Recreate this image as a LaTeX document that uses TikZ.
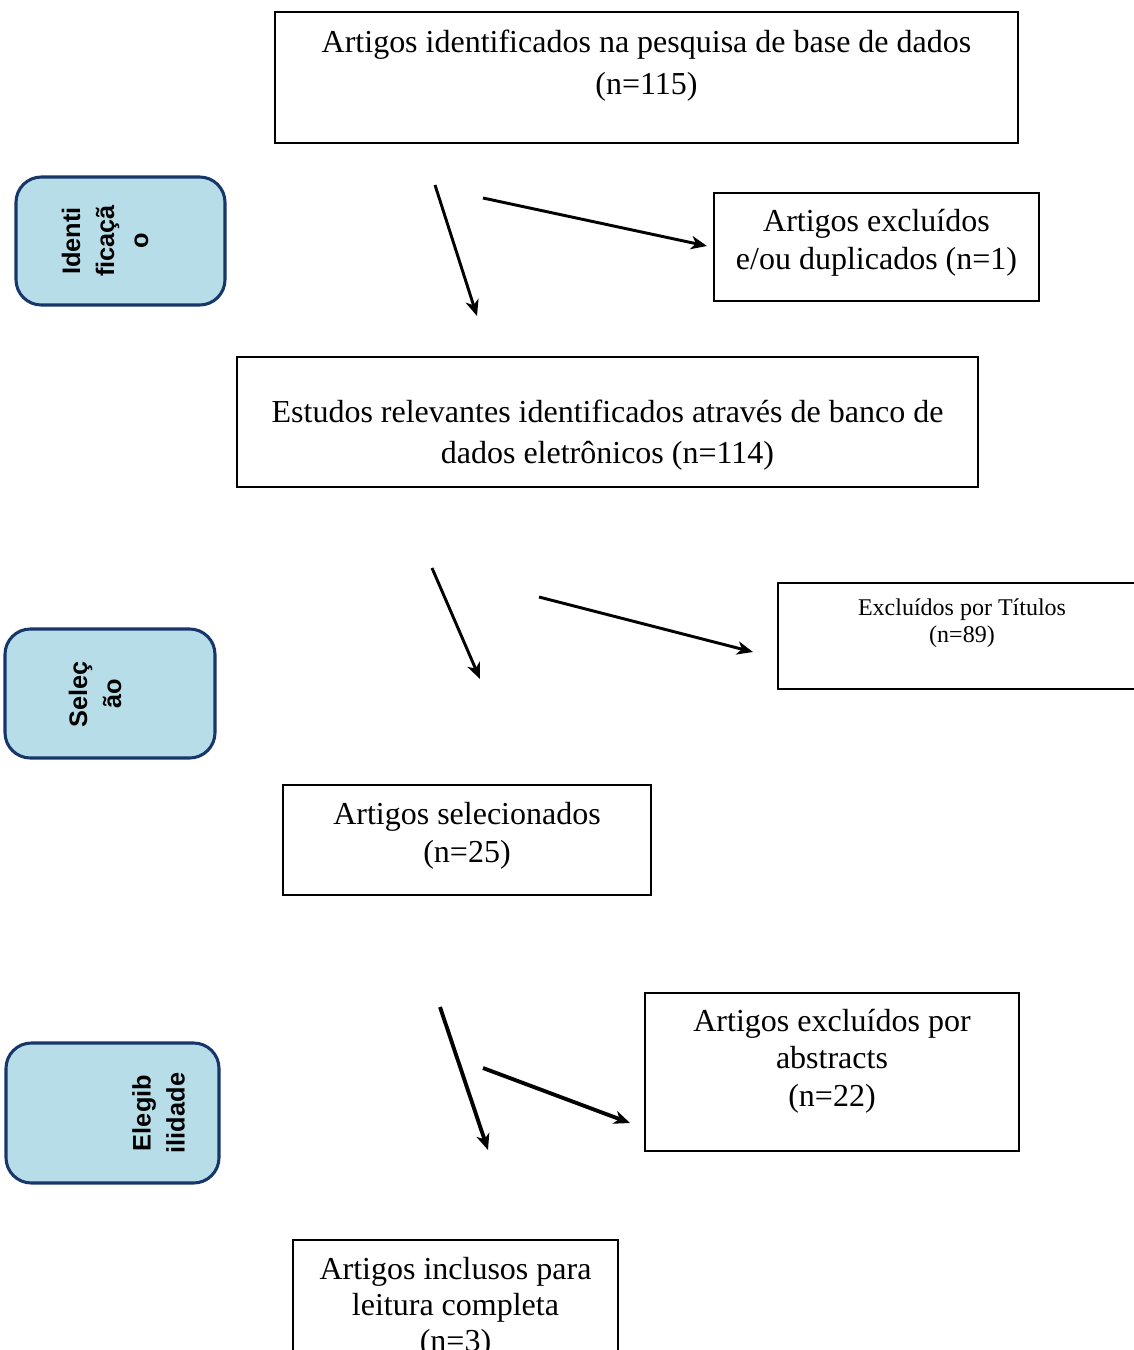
\documentclass[tikz,border=0pt]{standalone}
\usepackage{fontspec}
\setmainfont{Liberation Serif}
\newfontfamily\phasefont{Liberation Sans}
\usetikzlibrary{positioning,arrows.meta}
\definecolor{phasefill}{RGB}{183,221,232}
\definecolor{phaseline}{RGB}{23,54,106}

\tikzset{
  stagebox/.style={draw, line width=1.6pt, inner sep=0pt},
  stagetext/.style={align=center, inner sep=0pt, anchor=north, font=\fontsize{24}{28.2}\selectfont},
  phasebox/.style={draw=phaseline, fill=phasefill, line width=2.3pt, rounded corners=19pt, inner sep=0pt},
  phasetext/.style={rotate=90, align=center, inner sep=0pt, font=\phasefont\bfseries\fontsize{19}{25.5}\selectfont},
  flow/.style={-{Stealth[length=12pt,width=10pt,inset=3.5pt]}, line width=2.2pt},
}

\begin{document}
\begin{tikzpicture}[x=0.75pt, y=-0.75pt]
        \useasboundingbox (0,0) rectangle (1134,1350);

        % Phases
        \node (fase-id) [phasebox, minimum width=156.75pt, minimum height=96pt] at (120.5,241) {};
        \node (fase-id-t) [phasetext] at (105,241) {Identi\\ficaçã\\o};
        \node (fase-sel) [phasebox, minimum width=157.5pt, minimum height=96.75pt] at (110,693.5) {};
        \node (fase-sel-t) [phasetext] at (95,694) {Seleç\\ão};
        \node (fase-ele) [phasebox, minimum width=159.75pt, minimum height=105pt] at (112.5,1113) {};
        \node (fase-ele-t) [phasetext] at (158.5,1113) {Elegib\\ilidade};

        % Boxes
        \node (ident) [stagebox, minimum width=557.25pt, minimum height=98.25pt] at (646.5,77.5) {};
        \node (ident-t) [stagetext, font=\fontsize{24}{31.5}\selectfont] at (646.5,29.5)
              {Artigos identificados na pesquisa de base de dados\\(n=115)};
        \node (dup) [stagebox, minimum width=243.75pt, minimum height=81pt] at (876.5,247) {};
        \node (dup-t) [stagetext] at (876.5,209.2) {Artigos excluídos\\e/ou duplicados (n=1)};
        \node (relev) [stagebox, minimum width=555.75pt, minimum height=97.5pt] at (607.5,422) {};
        \node (relev-t) [stagetext, font=\fontsize{24}{30.75}\selectfont] at (607.5,400.1)
              {Estudos relevantes identificados através de banco de\\dados eletrônicos (n=114)};
        \node (titulos) [stagebox, minimum width=276pt, minimum height=79.5pt] at (962,636) {};
        \node (titulos-t) [stagetext, font=\fontsize{18}{20.5}\selectfont] at (962,598.7)
              {Excluídos por Títulos\\(n=89)};
        \node (selec) [stagebox, minimum width=276pt, minimum height=82.5pt] at (467,840) {};
        \node (selec-t) [stagetext, font=\fontsize{24}{28.7}\selectfont] at (467,801.6)
              {Artigos selecionados\\(n=25)};
        \node (abstr) [stagebox, minimum width=280.5pt, minimum height=118.5pt] at (832,1072) {};
        \node (abstr-t) [stagetext] at (832,1008.6) {Artigos excluídos por\\abstracts\\(n=22)};
        \node (inclus) [stagebox, minimum width=243.75pt, minimum height=120pt] at (455.5,1320) {};
        \node (inclus-t) [stagetext, font=\fontsize{24}{27}\selectfont] at (455.5,1257.1)
              {Artigos inclusos para\\leitura completa\\(n=3)};

        % Arrows
        \coordinate (a1) at (435,185);  \coordinate (b1) at (477,316);
        \coordinate (a2) at (483,198);  \coordinate (b2) at (707,246);
        \coordinate (a3) at (432,568);  \coordinate (b3) at (480,679);
        \coordinate (a4) at (539,597);  \coordinate (b4) at (753,652);
        \coordinate (a5) at (440,1007); \coordinate (b5) at (488,1150);
        \coordinate (a6) at (483,1068); \coordinate (b6) at (630,1123);
        \draw[flow] (a1) -- (b1);
        \draw[flow] (a2) -- (b2);
        \draw[flow] (a3) -- (b3);
        \draw[flow] (a4) -- (b4);
        \draw[flow, line width=2.9pt] (a5) -- (b5);
        \draw[flow, line width=2.9pt] (a6) -- (b6);
    \end{tikzpicture}
\end{document}
